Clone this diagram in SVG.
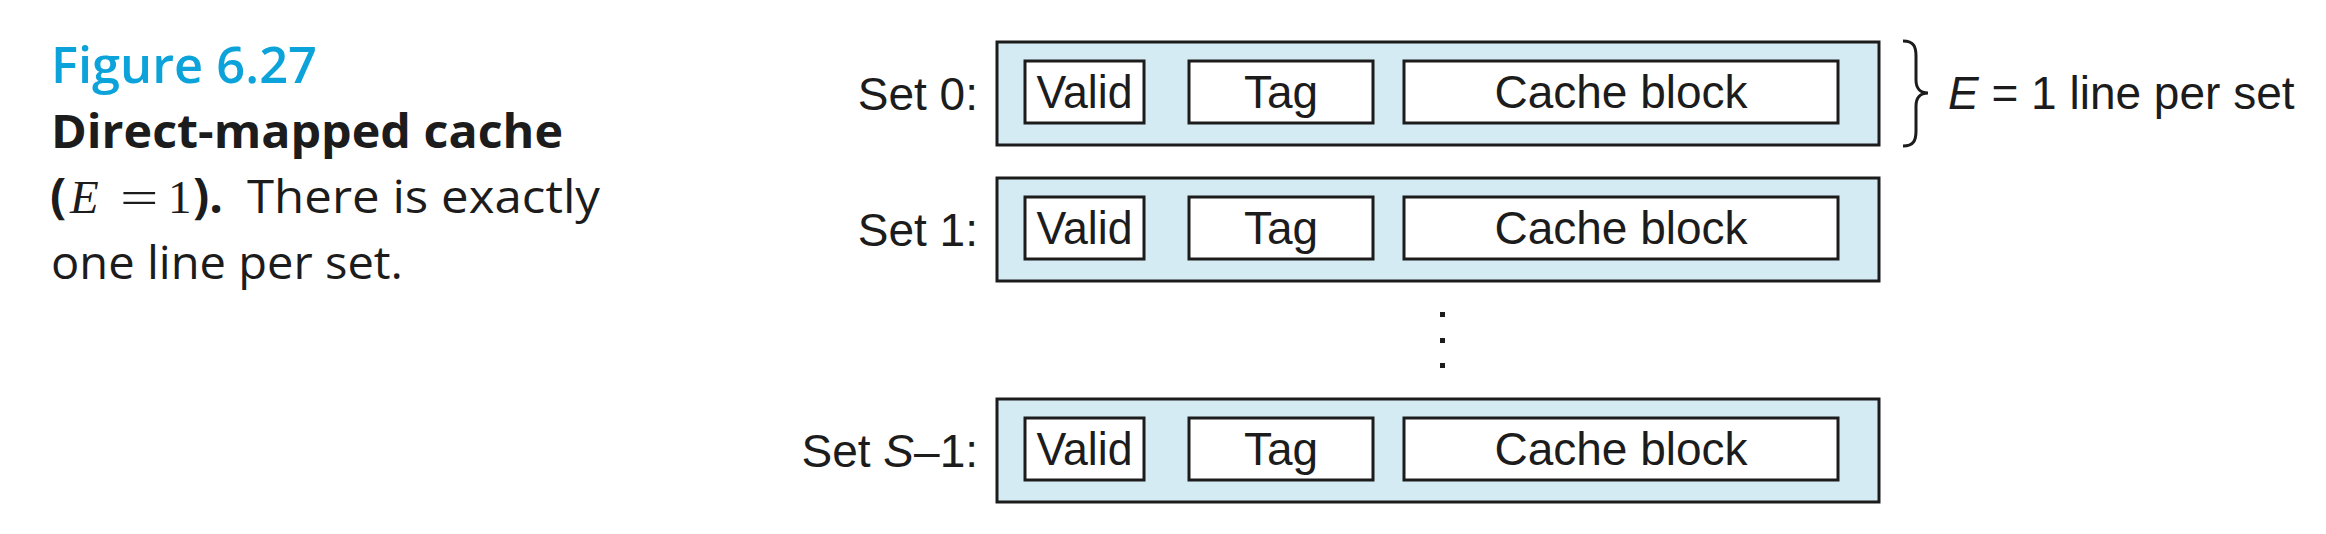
<svg xmlns="http://www.w3.org/2000/svg" width="2326" height="534" viewBox="0 0 2326 534">
<style>
.set{fill:#d4ebf3;stroke:#1c1c1c;stroke-width:3}
.cell{fill:#ffffff;stroke:#1c1c1c;stroke-width:3}
.lbl{font-family:"Liberation Sans",Arial,sans-serif;font-size:46px;fill:#1c1c1c}
.cap{font-family:"Open Sans","Noto Sans",sans-serif;font-size:46px;fill:#1c1c1c}
.math{font-family:"Liberation Serif","Times New Roman",serif;font-size:47px;fill:#1c1c1c}
</style>
<rect width="2326" height="534" fill="#ffffff"/>
<g id="caption">
<text class="cap" x="51" y="83" style="font-size:50px;font-weight:600;fill:#0ba3da" textLength="266" lengthAdjust="spacingAndGlyphs">Figure 6.27</text>
<text class="cap" x="51" y="148" style="font-weight:700" textLength="512" lengthAdjust="spacingAndGlyphs">Direct-mapped cache</text>
<text class="cap" x="50" y="213" style="font-weight:700;font-size:48px">(</text>
<text class="math" x="70" y="213" font-style="italic">E</text>
<text class="math" transform="translate(120,213) scale(1.45,1)" x="0" y="0">=</text>
<text class="math" x="168" y="213">1</text>
<text class="cap" x="193" y="213" style="font-weight:700;font-size:48px">).</text>
<text class="cap" x="247" y="213" textLength="353" lengthAdjust="spacingAndGlyphs">There is exactly</text>
<text class="cap" x="51" y="279" textLength="352" lengthAdjust="spacingAndGlyphs">one line per set.</text>
</g>
<g id="set0">
<text class="lbl" x="978" y="110" text-anchor="end">Set 0:</text>
<rect class="set" x="997" y="42" width="882" height="103"/>
<rect class="cell" x="1025" y="61" width="119" height="62"/>
<rect class="cell" x="1189" y="61" width="184" height="62"/>
<rect class="cell" x="1404" y="61" width="434" height="62"/>
<text class="lbl" x="1084.5" y="108" text-anchor="middle" textLength="96" lengthAdjust="spacingAndGlyphs">Valid</text>
<text class="lbl" x="1281" y="108" text-anchor="middle">Tag</text>
<text class="lbl" x="1621" y="108" text-anchor="middle">Cache block</text>
</g>
<g id="set1">
<text class="lbl" x="978" y="246" text-anchor="end">Set 1:</text>
<rect class="set" x="997" y="178" width="882" height="103"/>
<rect class="cell" x="1025" y="197" width="119" height="62"/>
<rect class="cell" x="1189" y="197" width="184" height="62"/>
<rect class="cell" x="1404" y="197" width="434" height="62"/>
<text class="lbl" x="1084.5" y="244" text-anchor="middle" textLength="96" lengthAdjust="spacingAndGlyphs">Valid</text>
<text class="lbl" x="1281" y="244" text-anchor="middle">Tag</text>
<text class="lbl" x="1621" y="244" text-anchor="middle">Cache block</text>
</g>
<g id="ellipsis" fill="#1c1c1c">
<rect x="1440" y="312" width="5" height="5"/>
<rect x="1440" y="338" width="5" height="5"/>
<rect x="1440" y="363" width="5" height="5"/>
</g>
<g id="setS1">
<text class="lbl" x="978" y="467" text-anchor="end">Set <tspan font-style="italic">S</tspan>–1:</text>
<rect class="set" x="997" y="399" width="882" height="103"/>
<rect class="cell" x="1025" y="418" width="119" height="62"/>
<rect class="cell" x="1189" y="418" width="184" height="62"/>
<rect class="cell" x="1404" y="418" width="434" height="62"/>
<text class="lbl" x="1084.5" y="465" text-anchor="middle" textLength="96" lengthAdjust="spacingAndGlyphs">Valid</text>
<text class="lbl" x="1281" y="465" text-anchor="middle">Tag</text>
<text class="lbl" x="1621" y="465" text-anchor="middle">Cache block</text>
</g>
<g id="connectors">
<path d="M1903,41 C1914,41 1916,47 1916,56 L1916,80 C1916,88 1920,93 1928,93 C1920,93 1916,98 1916,106 L1916,131 C1916,140 1914,146 1903,146" fill="none" stroke="#1c1c1c" stroke-width="3"/>
</g>
<g id="brace-label">
<text class="lbl" x="1948" y="109"><tspan font-style="italic">E</tspan> = 1 line per set</text>
</g>
</svg>
